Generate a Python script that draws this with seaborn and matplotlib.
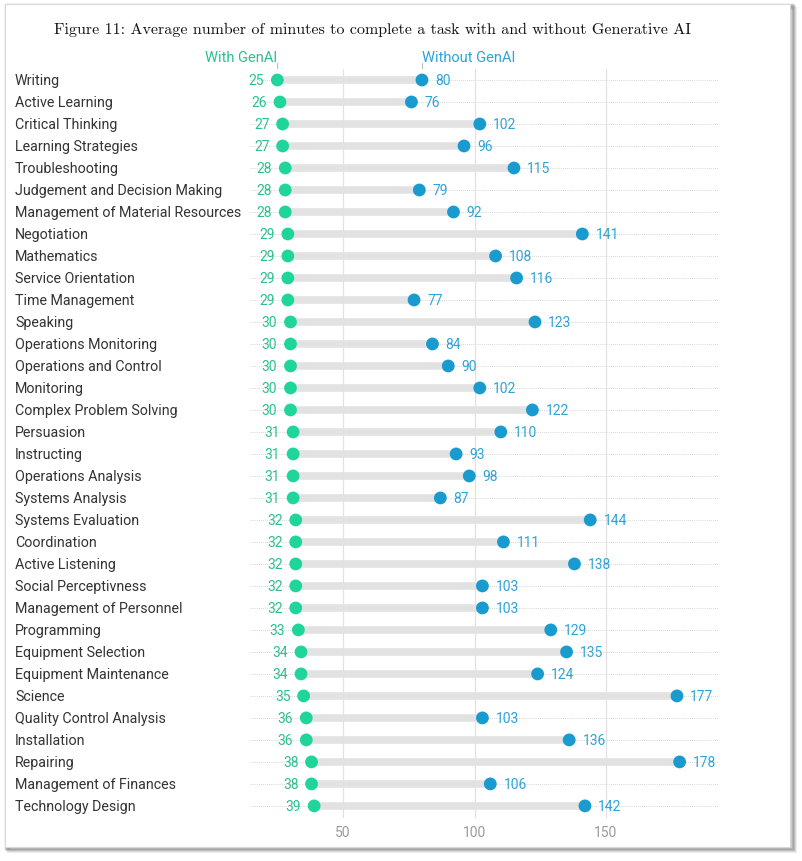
import matplotlib
matplotlib.use("Agg")
import matplotlib.pyplot as plt
import matplotlib.patches as mpatches
import matplotlib.transforms as mtransforms
import seaborn as sns
import pandas as pd

skills = [
    "Writing", "Active Learning", "Critical Thinking", "Learning Strategies",
    "Troubleshooting", "Judgement and Decision Making",
    "Management of Material Resources", "Negotiation", "Mathematics",
    "Service Orientation", "Time Management", "Speaking",
    "Operations Monitoring", "Operations and Control", "Monitoring",
    "Complex Problem Solving", "Persuasion", "Instructing",
    "Operations Analysis", "Systems Analysis", "Systems Evaluation",
    "Coordination", "Active Listening", "Social Perceptivness",
    "Management of Personnel", "Programming", "Equipment Selection",
    "Equipment Maintenance", "Science", "Quality Control Analysis",
    "Installation", "Repairing", "Management of Finances", "Technology Design",
]
with_genai = [25, 26, 27, 27, 28, 28, 28, 29, 29, 29, 29, 30, 30, 30, 30, 30, 31,
              31, 31, 31, 32, 32, 32, 32, 32, 33, 34, 34, 35, 36, 36, 38, 38, 39]
without_genai = [80, 76, 102, 96, 115, 79, 92, 141, 108, 116, 77, 123, 84, 90, 102,
                 122, 110, 93, 98, 87, 144, 111, 138, 103, 103, 129, 135, 124, 177,
                 103, 136, 178, 106, 142]
x_ticks = [50, 100, 150]

GREEN = "#1fd59c"
GREEN_TXT = "#2cc08e"
BLUE = "#1a9bd0"
BLUE_TXT = "#2fa3d8"

sns.set_theme(style="white")
plt.rcParams["font.family"] = ["Roboto", "DejaVu Sans"]

df = pd.DataFrame({"skill": skills, "with": with_genai, "without": without_genai})
df["row"] = range(len(df))

fig = plt.figure(figsize=(8.02, 8.62), dpi=100)

# card with a soft shadow
for i, a in enumerate([0.05, 0.08, 0.12, 0.18]):
    off = 4 - i
    fig.patches.append(mpatches.Rectangle(
        ((5 + off) / 802, 1 - (848 + off) / 862), 786 / 802, 843 / 862,
        transform=fig.transFigure, facecolor="none", edgecolor="black",
        linewidth=2.5, alpha=a, zorder=-3))
fig.patches.append(mpatches.Rectangle(
    (5 / 802, 1 - 848 / 862), 785 / 802, 843 / 862, transform=fig.transFigure,
    facecolor="white", edgecolor="#d8d8d8", linewidth=0.8, zorder=-2))

ax = fig.add_axes([250 / 802, 1 - 819 / 862, 468 / 802, 749 / 862])
ax.set_facecolor("none")

# light row guides and vertical grid
for r in df["row"]:
    ax.axhline(r, color="#c8c8c8", lw=0.6, ls=(0, (1, 1.5)), zorder=0)
for t in x_ticks:
    ax.axvline(t, color="#e2e2e2", lw=0.9, zorder=0)

ax.hlines(df["row"], df["with"], df["without"], color="#e2e2e2", lw=5.5, zorder=1)
sns.scatterplot(data=df, x="with", y="row", color=GREEN, s=85, edgecolor="none",
                ax=ax, zorder=3)
sns.scatterplot(data=df, x="without", y="row", color=BLUE, s=85, edgecolor="none",
                ax=ax, zorder=3)

label_tf = mtransforms.blended_transform_factory(fig.transFigure, ax.transData)
for _, d in df.iterrows():
    ax.annotate(str(d["with"]), (d["with"], d["row"]), xytext=(-9.5, 0),
                textcoords="offset points", ha="right", va="center",
                color=GREEN_TXT, fontsize=10)
    ax.annotate(str(d["without"]), (d["without"], d["row"]), xytext=(9.5, 0),
                textcoords="offset points", ha="left", va="center",
                color=BLUE_TXT, fontsize=10)
    ax.text(15 / 802, d["row"], d["skill"], transform=label_tf, clip_on=False,
            ha="left", va="center", fontsize=10.3, color="#333333")

# column headers with little ticks
top = df.iloc[0]
ax.text(top["with"], -1.05, "With GenAI", ha="right", va="center",
        color=GREEN_TXT, fontsize=10.5, clip_on=False)
ax.text(top["without"], -1.05, "Without GenAI", ha="left", va="center",
        color=BLUE_TXT, fontsize=10.5, clip_on=False)
for v in [top["with"], top["without"]]:
    ax.plot([v, v], [-0.78, -0.56], color="#bbbbbb", lw=0.8, clip_on=False)

ax.set_xlim(14.6, 192.6)
ax.set_ylim(len(df) - 1 + 0.55, -0.5)
ax.set_xticks(x_ticks)
ax.set_yticks([])
ax.tick_params(axis="x", length=0, labelsize=10, labelcolor="#9a9a9a", pad=5)
ax.set_xlabel("")
ax.set_ylabel("")
sns.despine(ax=ax, left=True, bottom=True)

fig.text(373 / 802, 1 - 30 / 862,
         "Figure 11: Average number of minutes to complete a task with and without Generative AI",
         ha="center", va="center", fontsize=11.5, family="cmr10", color="#111111")

fig.savefig("out.png", dpi=100)
